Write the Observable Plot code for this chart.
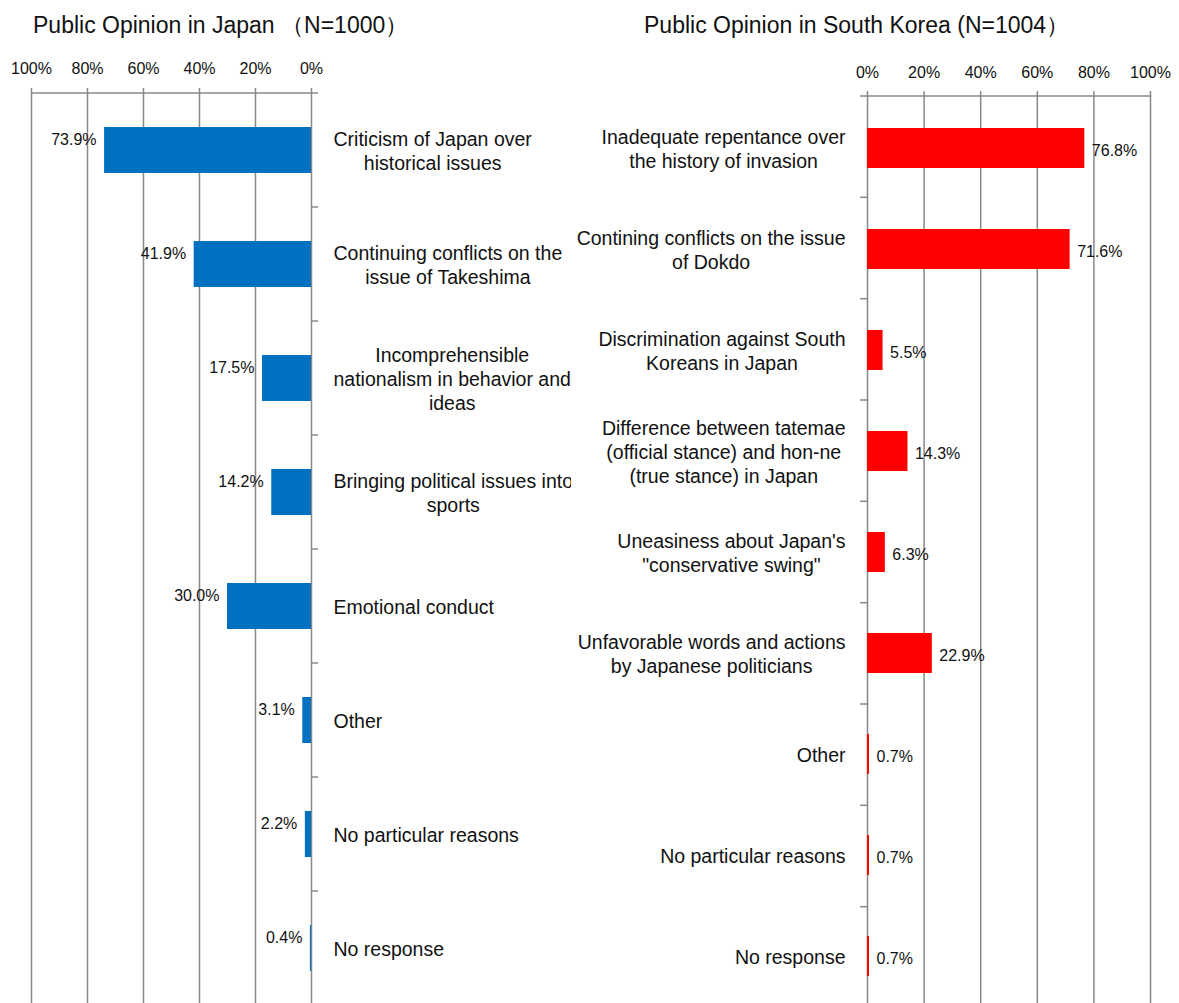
<!DOCTYPE html>
<html><head><meta charset="utf-8">
<script src="https://cdn.jsdelivr.net/npm/d3@7"></script>
<script src="https://cdn.jsdelivr.net/npm/@observablehq/plot@0.6"></script>
<style>
body{margin:0;background:#fff;font-family:'Liberation Sans Narrow','Arial Narrow','Liberation Sans',Arial,sans-serif;color:#111;}
#row{display:flex;width:1179px;}
.panel{position:relative;overflow:hidden;}
.title{height:45px;line-height:50px;font-size:23px;white-space:nowrap;}
</style></head><body>
<div id="row">
<div class="panel" id="jp" style="width:571px"><div class="title" style="padding-left:33px">Public Opinion in Japan （N=1000）</div></div>
<div class="panel" id="kr" style="width:608px"><div class="title" style="padding-left:73px">Public Opinion in South Korea (N=1004）</div></div>
</div>
<script>
const jpCategories = [
  "Criticism of Japan over\nhistorical issues",
  "Continuing conflicts on the\nissue of Takeshima",
  "Incomprehensible\nnationalism in behavior and\nideas",
  "Bringing political issues into\nsports",
  "Emotional conduct",
  "Other",
  "No particular reasons",
  "No response"
];
const jpValues = [73.9, 41.9, 17.5, 14.2, 30.0, 3.1, 2.2, 0.4];

const krCategories = [
  "Inadequate repentance over\nthe history of invasion",
  "Contining conflicts on the issue\nof Dokdo",
  "Discrimination against South\nKoreans in Japan",
  "Difference between tatemae\n(official stance) and hon-ne\n(true stance) in Japan",
  "Uneasiness about Japan's\n\"conservative swing\"",
  "Unfavorable words and actions\nby Japanese politicians",
  "Other",
  "No particular reasons",
  "No response"
];
const krValues = [76.8, 71.6, 5.5, 14.3, 6.3, 22.9, 0.7, 0.7, 0.7];

const xTicks = [0, 20, 40, 60, 80, 100];

const FONT = "'Liberation Sans Narrow','Arial Narrow','Liberation Sans',Arial,sans-serif";
const GRID = "#888";
const GW = 1.5;

function frameTicks(categories, side, len) {
  return (index, scales, values, dimensions) => {
    const g = d3.create("svg:g").attr("stroke", GRID).attr("stroke-width", GW);
    const top = dimensions.marginTop;
    const bottom = dimensions.height - dimensions.marginBottom;
    const n = categories.length;
    const x0 = scales.x(0), x100 = scales.x(100);
    const dir = side === "right" ? 1 : -1;
    g.append("line").attr("x1", x100).attr("x2", x0 + dir * len).attr("y1", top).attr("y2", top);
    for (let k = 1; k <= n; k++) {
      const y = top + k * (bottom - top) / n;
      g.append("line").attr("x1", x0).attr("x2", x0 + dir * len).attr("y1", y).attr("y2", y);
    }
    return g.node();
  };
}

function centerLines(svg) {
  svg.querySelectorAll("text").forEach(t => {
    const spans = t.querySelectorAll("tspan");
    if (spans.length < 2) return;
    const anchor = getComputedStyle(t).textAnchor;
    let W = 0;
    spans.forEach(s => { W = Math.max(W, s.getComputedTextLength()); });
    t.setAttribute("text-anchor", "middle");
    spans.forEach(s => s.setAttribute("x", anchor === "end" ? -W / 2 : W / 2));
  });
}

const jpData = jpCategories.map((c, i) => ({category: c, value: jpValues[i]}));
const krData = krCategories.map((c, i) => ({category: c, value: krValues[i]}));

const jp = Plot.plot({
  width: 571, height: 960,
  marginLeft: 31, marginRight: 260, marginTop: 48, marginBottom: 0,
  style: {fontFamily: FONT, fontSize: "16px", color: "#111", background: "white"},
  x: {domain: [0, 100], reverse: true, label: null},
  y: {domain: jpCategories, paddingInner: 0.6, paddingOuter: 0.3, axis: null},
  marks: [
    Plot.gridX(xTicks, {stroke: GRID, strokeOpacity: 1, strokeWidth: GW}),
    Plot.axisX(xTicks, {anchor: "top", label: null, tickSize: 6, tickPadding: 14, tickFormat: d => d + "%", stroke: GRID, strokeOpacity: 1, strokeWidth: GW, fontSize: 16, fill: "#111"}),
    frameTicks(jpCategories, "right", 7),
    Plot.barX(jpData, {x: "value", y: "category", fill: "#0070C0"}),
    Plot.text(jpData, {x: "value", y: "category", text: d => d.value.toFixed(1) + "%", textAnchor: "end", dx: -8, dy: -11, fontSize: 16, fill: "#111"}),
    Plot.text(jpData, {x: () => 0, y: "category", text: "category", textAnchor: "start", dx: 22, lineHeight: 1.22, fontSize: 19.5, fill: "#111"})
  ]
});

const kr = Plot.plot({
  width: 608, height: 963,
  marginLeft: 296, marginRight: 29, marginTop: 51, marginBottom: 0,
  style: {fontFamily: FONT, fontSize: "16px", color: "#111", background: "white"},
  x: {domain: [0, 100], label: null},
  y: {domain: krCategories, paddingInner: 0.6, paddingOuter: 0.3, axis: null},
  marks: [
    Plot.gridX(xTicks, {stroke: GRID, strokeOpacity: 1, strokeWidth: GW}),
    Plot.axisX(xTicks, {anchor: "top", label: null, tickSize: 6, tickPadding: 13, tickFormat: d => d + "%", stroke: GRID, strokeOpacity: 1, strokeWidth: GW, fontSize: 16, fill: "#111"}),
    frameTicks(krCategories, "left", 7),
    Plot.barX(krData, {x: "value", y: "category", fill: "#FF0000"}),
    Plot.text(krData, {x: "value", y: "category", text: d => d.value.toFixed(1) + "%", textAnchor: "start", dx: 7, dy: 2, fontSize: 16, fill: "#111"}),
    Plot.text(krData, {x: () => 0, y: "category", text: "category", textAnchor: "end", dx: -22, lineHeight: 1.22, fontSize: 19.5, fill: "#111"})
  ]
});

document.getElementById("jp").appendChild(jp);
document.getElementById("kr").appendChild(kr);
centerLines(jp);
centerLines(kr);
</script>
</body></html>
